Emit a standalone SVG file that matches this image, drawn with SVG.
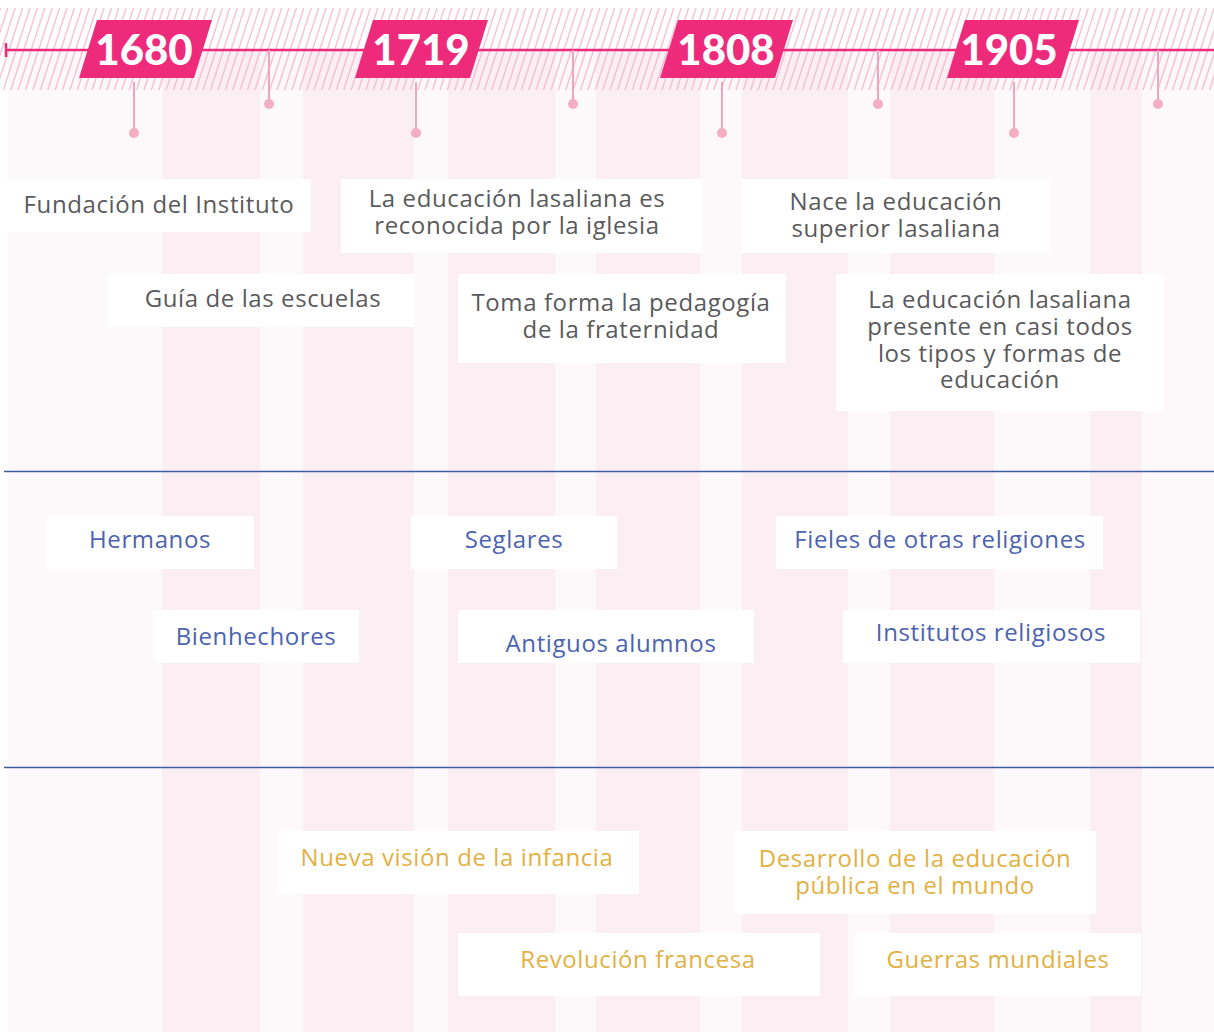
<svg xmlns="http://www.w3.org/2000/svg" width="1214" height="1032" viewBox="0 0 1214 1032">
<defs>
<pattern id="hatch" width="7.4" height="20" patternUnits="userSpaceOnUse" patternTransform="skewX(-18)">
<line x1="3" y1="0" x2="3" y2="20" stroke="#f4b1c7" stroke-width="1.2"/>
</pattern>
<style>
.lt{fill:#fdf8f9}
.dk{fill:#fbeff3}
.box{fill:#ffffff}
.t{font-family:"Open Sans","Noto Sans","Liberation Sans",sans-serif;font-size:24px;text-anchor:middle;letter-spacing:0.6px}
.g{fill:#5a5a5c}
.b{fill:#4c63b1}
.y{fill:#e2b143}
.yr{font-family:Lato,"Open Sans","Liberation Sans",sans-serif;font-weight:900;font-size:42px;fill:#ffffff;text-anchor:middle}
.tag{fill:#ee2a7b}
.stem{stroke:#f2a6be;stroke-width:2;fill:none}
.dot{fill:#f4adc3}
.sep{stroke:#3c5ba6;stroke-width:1.5}
</style>
</defs>
<rect width="1214" height="1032" fill="#ffffff"/>
<g id="columns">
<rect class="lt" x="8" y="50" width="154" height="982"/>
<rect class="dk" x="162" y="50" width="98" height="982"/>
<rect class="lt" x="260" y="50" width="43" height="982"/>
<rect class="dk" x="303" y="50" width="111" height="982"/>
<rect class="lt" x="414" y="50" width="34" height="982"/>
<rect class="dk" x="448" y="50" width="107" height="982"/>
<rect class="lt" x="555" y="50" width="41" height="982"/>
<rect class="dk" x="596" y="50" width="104" height="982"/>
<rect class="lt" x="700" y="50" width="42" height="982"/>
<rect class="dk" x="742" y="50" width="106" height="982"/>
<rect class="lt" x="848" y="50" width="42" height="982"/>
<rect class="dk" x="890" y="50" width="104" height="982"/>
<rect class="lt" x="994" y="50" width="96" height="982"/>
<rect class="dk" x="1090" y="50" width="52" height="982"/>
<rect class="lt" x="1142" y="50" width="72" height="982"/>
</g>
<rect id="hatching" x="0" y="8" width="1214" height="82" fill="url(#hatch)"/>
<g id="connectors">
<line x1="6" y1="50" x2="1214" y2="50" stroke="#ee2a7b" stroke-width="2.5"/>
<line x1="6" y1="43" x2="6" y2="57" stroke="#ee2a7b" stroke-width="2.5"/>
<line class="stem" x1="134" y1="82" x2="134" y2="133"/><circle class="dot" cx="134" cy="133" r="5"/>
<line class="stem" x1="416" y1="82" x2="416" y2="133"/><circle class="dot" cx="416" cy="133" r="5"/>
<line class="stem" x1="722" y1="82" x2="722" y2="133"/><circle class="dot" cx="722" cy="133" r="5"/>
<line class="stem" x1="1014" y1="82" x2="1014" y2="133"/><circle class="dot" cx="1014" cy="133" r="5"/>
<line class="stem" x1="269" y1="50" x2="269" y2="104"/><circle class="dot" cx="269" cy="104" r="5"/>
<line class="stem" x1="573" y1="50" x2="573" y2="104"/><circle class="dot" cx="573" cy="104" r="5"/>
<line class="stem" x1="878" y1="50" x2="878" y2="104"/><circle class="dot" cx="878" cy="104" r="5"/>
<line class="stem" x1="1158" y1="50" x2="1158" y2="104"/><circle class="dot" cx="1158" cy="104" r="5"/>
<line class="sep" x1="4" y1="471.5" x2="1214" y2="471.5"/>
<line class="sep" x1="4" y1="767.5" x2="1214" y2="767.5"/>
</g>
<g id="year-1680"><polygon class="tag" points="97,20 212,20 194,78 79,78"/><text class="yr" x="144" y="65">1680</text></g>
<g id="year-1719"><polygon class="tag" points="373,20 488,20 470,78 355,78"/><text class="yr" x="421" y="65">1719</text></g>
<g id="year-1808"><polygon class="tag" points="678,20 793,20 775,78 660,78"/><text class="yr" x="726" y="65">1808</text></g>
<g id="year-1905"><polygon class="tag" points="965,20 1079,20 1061,78 947,78"/><text class="yr" x="1009" y="65">1905</text></g>

<g id="n-fundacion"><rect class="box" x="8" y="179" width="303" height="53"/><text class="t g" x="159" y="213">Fundación del Instituto</text></g>
<g id="n-reconocida"><rect class="box" x="341" y="179" width="362" height="74"/><text class="t g" x="517" y="207">La educación lasaliana es</text><text class="t g" x="517" y="234">reconocida por la iglesia</text></g>
<g id="n-superior"><rect class="box" x="742" y="179" width="308" height="74"/><text class="t g" x="896" y="210">Nace la educación</text><text class="t g" x="896" y="237">superior lasaliana</text></g>
<g id="n-guia"><rect class="box" x="108" y="274" width="306" height="53"/><text class="t g" x="263" y="307">Guía de las escuelas</text></g>
<g id="n-fraternidad"><rect class="box" x="458" y="274" width="328" height="89"/><text class="t g" x="621" y="311">Toma forma la pedagogía</text><text class="t g" x="621" y="338">de la fraternidad</text></g>
<g id="n-presente"><rect class="box" x="836" y="274" width="328" height="137"/><text class="t g" x="1000" y="308">La educación lasaliana</text><text class="t g" x="1000" y="335">presente en casi todos</text><text class="t g" x="1000" y="362">los tipos y formas de</text><text class="t g" x="1000" y="388">educación</text></g>

<g id="n-hermanos"><rect class="box" x="47" y="516" width="207" height="53"/><text class="t b" x="150" y="548">Hermanos</text></g>
<g id="n-seglares"><rect class="box" x="411" y="516" width="206" height="53"/><text class="t b" x="514" y="548">Seglares</text></g>
<g id="n-fieles"><rect class="box" x="776" y="516" width="327" height="53"/><text class="t b" x="940" y="548">Fieles de otras religiones</text></g>
<g id="n-bienhechores"><rect class="box" x="153" y="610" width="206" height="53"/><text class="t b" x="256" y="645">Bienhechores</text></g>
<g id="n-antiguos"><rect class="box" x="458" y="610" width="296" height="53"/><text class="t b" x="611" y="652">Antiguos alumnos</text></g>
<g id="n-institutos"><rect class="box" x="843" y="610" width="297" height="53"/><text class="t b" x="991" y="641">Institutos religiosos</text></g>

<g id="n-infancia"><rect class="box" x="277" y="831" width="362" height="63"/><text class="t y" x="457" y="866">Nueva visión de la infancia</text></g>
<g id="n-publica"><rect class="box" x="734" y="831" width="362" height="83"/><text class="t y" x="915" y="867">Desarrollo de la educación</text><text class="t y" x="915" y="894">pública en el mundo</text></g>
<g id="n-revolucion"><rect class="box" x="458" y="933" width="362" height="63"/><text class="t y" x="638" y="968">Revolución francesa</text></g>
<g id="n-guerras"><rect class="box" x="854" y="933" width="287" height="63"/><text class="t y" x="998" y="968">Guerras mundiales</text></g>
</svg>
